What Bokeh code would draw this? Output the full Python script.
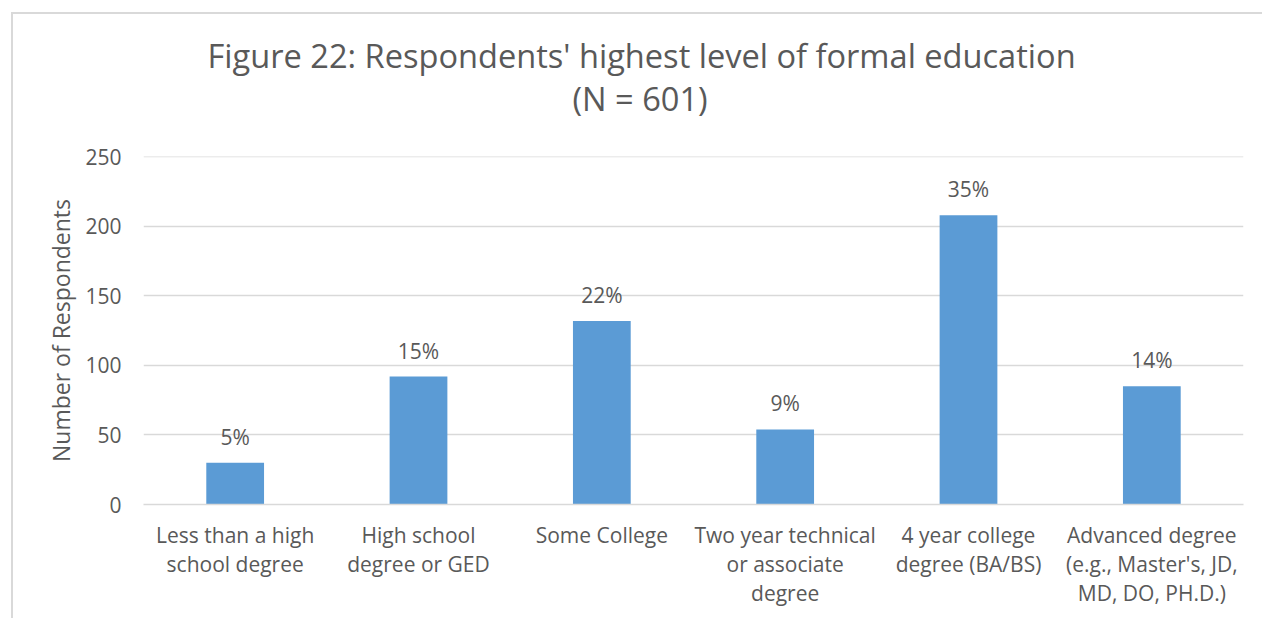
from bokeh.plotting import figure
from bokeh.models import (ColumnDataSource, LabelSet, FactorRange, Range1d,
                          SingleIntervalTicker, Title)
from bokeh.core.properties import value
from bokeh.embed import file_html
from bokeh.resources import INLINE

categories = [
    "Less than a high\nschool degree",
    "High school\ndegree or GED",
    "Some College",
    "Two year technical\nor associate\ndegree",
    "4 year college\ndegree (BA/BS)",
    "Advanced degree\n(e.g., Master's, JD,\nMD, DO, PH.D.)",
]
counts = [30, 92, 132, 54, 208, 85]
percent_labels = ["5%", "15%", "22%", "9%", "35%", "14%"]
title_line1 = "Figure 22: Respondents' highest level of formal education"
title_line2 = "(N = 601)"
y_title = "Number of Respondents"

FONT = "Open Sans"
TXT = "#595959"
GRID = "#D9D9D9"

src = ColumnDataSource(dict(cat=categories, n=counts, pct=percent_labels))

p = figure(width=1262, height=618, output_backend="svg", toolbar_location=None,
           x_range=FactorRange(*categories, range_padding=0),
           y_range=Range1d(0, 250.2))
p.min_border_left = 143
p.min_border_right = 19
p.min_border_top = 156
p.min_border_bottom = 114
p.outline_line_color = None
p.background_fill_color = "white"
p.border_fill_color = None
p.styles = {
    "background": "linear-gradient(#D9D9D9,#D9D9D9) 11px 12px / 2px 100% no-repeat, "
                  "linear-gradient(#D9D9D9,#D9D9D9) 11px 12px / 100% 2px no-repeat, white"
}

p.vbar(x="cat", top="n", width=0.315, source=src, fill_color="#5B9BD5",
       line_color=None)

p.xgrid.grid_line_color = None
p.ygrid.grid_line_color = GRID
p.ygrid.grid_line_width = 1.3

p.yaxis.ticker = SingleIntervalTicker(interval=50)
p.yaxis.axis_line_color = None
p.yaxis.major_tick_line_color = None
p.yaxis.minor_tick_line_color = None
p.yaxis.major_label_standoff = 16
p.yaxis.major_label_text_font = FONT
p.yaxis.major_label_text_font_size = "21px"
p.yaxis.major_label_text_color = TXT
p.yaxis.axis_label = y_title
p.yaxis.axis_label_text_font = FONT
p.yaxis.axis_label_text_font_size = "23px"
p.yaxis.axis_label_text_font_style = "normal"
p.yaxis.axis_label_text_color = TXT
p.yaxis.axis_label_standoff = 5

p.xaxis.axis_line_color = GRID
p.xaxis.axis_line_width = 1.3
p.xaxis.major_tick_line_color = None
p.xaxis.minor_tick_line_color = None
p.xaxis.major_label_text_font = FONT
p.xaxis.major_label_text_font_size = "21px"
p.xaxis.major_label_text_color = TXT
p.xaxis.major_label_text_line_height = 1.04
p.xaxis.major_label_standoff = 10
p.xaxis.major_label_orientation = "horizontal"

labels = LabelSet(x="cat", y="n", text="pct", source=src, text_align="center",
                  text_baseline="middle", y_offset=26,
                  text_font=value(FONT), text_font_size="21px", text_color=TXT)
p.add_layout(labels)

p.title.text = title_line1
p.title.align = "left"
p.title.offset = 64
p.title.standoff = -80
p.title.text_font = FONT
p.title.text_font_size = "32.6px"
p.title.text_font_style = "normal"
p.title.text_color = TXT

t2 = Title(text=title_line2, align="left", offset=429, standoff=72, text_font=FONT,
           text_font_size="32.6px", text_font_style="normal", text_color=TXT)
p.add_layout(t2, "above")

open("out.html", "w").write(file_html(p, INLINE))
